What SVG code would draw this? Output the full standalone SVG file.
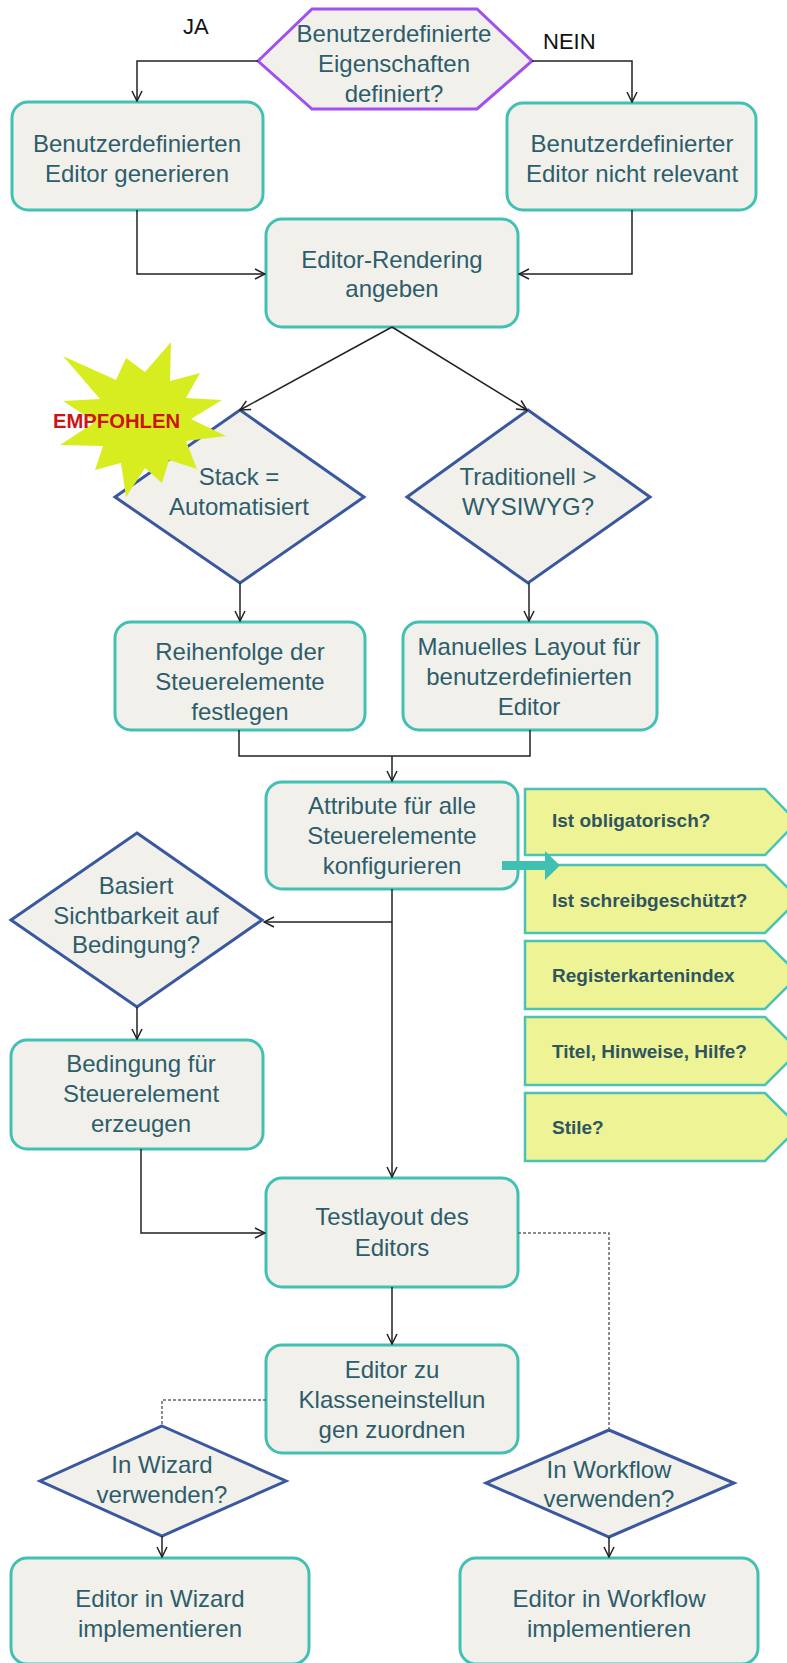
<svg xmlns="http://www.w3.org/2000/svg" width="787" height="1663" viewBox="0 0 787 1663">
<defs>
<style>
.box{fill:#f1f0ea;stroke:#42c0b4;stroke-width:3}
.dia{fill:#f1f0ea;stroke:#3a589f;stroke-width:3}
.hex{fill:#f1f0ea;stroke:#a14ff0;stroke-width:3}
.tag{fill:#eef395;stroke:#48c3b6;stroke-width:2.5}
.t{font-family:"Liberation Sans",Arial,sans-serif;font-size:24px;fill:#2d5d6b;text-anchor:middle}
.tt{font-family:"Liberation Sans",Arial,sans-serif;font-size:19px;font-weight:bold;fill:#2f5560}
.lbl{font-family:"Liberation Sans",Arial,sans-serif;font-size:22px;fill:#111}
.c{fill:none;stroke:#222;stroke-width:1.5;marker-end:url(#ah)}
.cn{fill:none;stroke:#222;stroke-width:1.5}
.d{fill:none;stroke:#666;stroke-width:1.5;stroke-dasharray:3 2}
</style>
<marker id="ah" viewBox="0 0 12 12" refX="11" refY="6" markerWidth="12" markerHeight="12" markerUnits="userSpaceOnUse" orient="auto">
<path d="M1,1 L11,6 L1,11" fill="none" stroke="#222" stroke-width="1.5"/>
</marker>
</defs>
<rect width="787" height="1663" fill="#fff"/>

<g id="n-start">
<polygon class="hex" points="258,61 312,9 477,9 532,61 477,109 312,109"/>
<text class="t" x="394" y="42">Benutzerdefinierte</text>
<text class="t" x="394" y="72">Eigenschaften</text>
<text class="t" x="394" y="102">definiert?</text>
</g>
<g id="l-ja"><text class="lbl" x="183" y="34">JA</text></g>
<g id="l-nein"><text class="lbl" x="543" y="49">NEIN</text></g>

<g id="n-gen">
<rect class="box" x="12" y="102" width="251" height="108" rx="16"/>
<text class="t" x="137" y="152">Benutzerdefinierten</text>
<text class="t" x="137" y="182">Editor generieren</text>
</g>
<g id="n-notrel">
<rect class="box" x="507" y="103" width="249" height="107" rx="16"/>
<text class="t" x="632" y="152">Benutzerdefinierter</text>
<text class="t" x="632" y="182">Editor nicht relevant</text>
</g>
<g id="n-render">
<rect class="box" x="266" y="219" width="252" height="108" rx="16"/>
<text class="t" x="392" y="268">Editor-Rendering</text>
<text class="t" x="392" y="297">angeben</text>
</g>

<g id="n-stack">
<polygon class="dia" points="240,410 364,497 240,583 115,497"/>
<text class="t" x="239" y="485">Stack =</text>
<text class="t" x="239" y="515">Automatisiert</text>
</g>
<g id="n-empfohlen">
<polygon fill="#d8ed1f" points="126,358 145,372 171,342 170,381 200,373 186,398 222,400 191,419 226,436 186,441 197,469 169,460 162,483 145,468 126,497 121,463 95,470 103,446 60,445 95,422 63,401 100,399 63,356 116,380"/>
<text x="53" y="428" font-family="'Liberation Sans',Arial,sans-serif" font-size="20" font-weight="bold" fill="#cc1414" textLength="127" lengthAdjust="spacingAndGlyphs">EMPFOHLEN</text>
</g>
<g id="n-trad">
<polygon class="dia" points="528,410 650,497 528,583 407,497"/>
<text class="t" x="528" y="485">Traditionell &gt;</text>
<text class="t" x="528" y="515">WYSIWYG?</text>
</g>

<g id="n-order">
<rect class="box" x="115" y="622" width="250" height="108" rx="16"/>
<text class="t" x="240" y="660">Reihenfolge der</text>
<text class="t" x="240" y="690">Steuerelemente</text>
<text class="t" x="240" y="720">festlegen</text>
</g>
<g id="n-manual">
<rect class="box" x="403" y="622" width="254" height="108" rx="16"/>
<text class="t" x="529" y="655">Manuelles Layout für</text>
<text class="t" x="529" y="685">benutzerdefinierten</text>
<text class="t" x="529" y="715">Editor</text>
</g>

<g id="n-attr">
<rect class="box" x="266" y="782" width="252" height="107" rx="16"/>
<text class="t" x="392" y="814">Attribute für alle</text>
<text class="t" x="392" y="844">Steuerelemente</text>
<text class="t" x="392" y="874">konfigurieren</text>
</g>

<g id="n-tag1">
<polygon class="tag" points="525,789 765,789 797,822 765,855 525,855"/>
<text class="tt" x="552" y="827">Ist obligatorisch?</text>
</g>
<g id="n-tag2">
<polygon class="tag" points="525,865 765,865 799,899 765,933 525,933"/>
<text class="tt" x="552" y="907">Ist schreibgeschützt?</text>
</g>
<g id="n-tag3">
<polygon class="tag" points="525,941 765,941 799,975 765,1009 525,1009"/>
<text class="tt" x="552" y="982">Registerkartenindex</text>
</g>
<g id="n-tag4">
<polygon class="tag" points="525,1017 765,1017 799,1051 765,1085 525,1085"/>
<text class="tt" x="552" y="1058">Titel, Hinweise, Hilfe?</text>
</g>
<g id="n-tag5">
<polygon class="tag" points="525,1093 765,1093 799,1127 765,1161 525,1161"/>
<text class="tt" x="552" y="1134">Stile?</text>
</g>

<g id="n-visible">
<polygon class="dia" points="137,833 262,920 137,1007 11,920"/>
<text class="t" x="136" y="894">Basiert</text>
<text class="t" x="136" y="924">Sichtbarkeit auf</text>
<text class="t" x="136" y="953">Bedingung?</text>
</g>
<g id="n-cond">
<rect class="box" x="11" y="1040" width="252" height="109" rx="16"/>
<text class="t" x="141" y="1072">Bedingung für</text>
<text class="t" x="141" y="1102">Steuerelement</text>
<text class="t" x="141" y="1132">erzeugen</text>
</g>

<g id="n-test">
<rect class="box" x="266" y="1178" width="252" height="109" rx="16"/>
<text class="t" x="392" y="1225">Testlayout des</text>
<text class="t" x="392" y="1256">Editors</text>
</g>
<g id="n-assign">
<rect class="box" x="266" y="1345" width="252" height="108" rx="16"/>
<text class="t" x="392" y="1378">Editor zu</text>
<text class="t" x="392" y="1408">Klasseneinstellun</text>
<text class="t" x="392" y="1438">gen zuordnen</text>
</g>

<g id="n-wizq">
<polygon class="dia" points="162,1426 286,1481 162,1536 40,1481"/>
<text class="t" x="162" y="1473">In Wizard</text>
<text class="t" x="162" y="1503">verwenden?</text>
</g>
<g id="n-wfq">
<polygon class="dia" points="609,1430 734,1483 609,1537 486,1483"/>
<text class="t" x="609" y="1478">In Workflow</text>
<text class="t" x="609" y="1507">verwenden?</text>
</g>

<g id="n-wiz">
<rect class="box" x="11" y="1558" width="298" height="106" rx="16"/>
<text class="t" x="160" y="1607">Editor in Wizard</text>
<text class="t" x="160" y="1637">implementieren</text>
</g>
<g id="n-wf">
<rect class="box" x="460" y="1558" width="298" height="106" rx="16"/>
<text class="t" x="609" y="1607">Editor in Workflow</text>
<text class="t" x="609" y="1637">implementieren</text>
</g>

<g id="connectors">
<path class="c" d="M258,61 H137 V101"/>
<path class="c" d="M532,61 H632 V102"/>
<path class="c" d="M137,210 V274 H265"/>
<path class="c" d="M632,210 V274 H519"/>
<path class="c" d="M392,327 L240,410"/>
<path class="c" d="M392,327 L527,410"/>
<path class="c" d="M240,583 V621"/>
<path class="c" d="M529,583 V621"/>
<path class="cn" d="M239,730 V756 H530 V730"/>
<path class="c" d="M392,756 V781"/>
<path class="c" d="M392,889 V1177"/>
<path class="c" d="M392,922 H264"/>
<path class="c" d="M137,1007 V1039"/>
<path class="c" d="M141,1149 V1233 H265"/>
<path class="c" d="M392,1287 V1344"/>
<path class="c" d="M162,1536 V1557"/>
<path class="c" d="M609,1537 V1557"/>
<path class="d" d="M518,1233 H609 V1430"/>
<path class="d" d="M266,1400 H162 V1426"/>
<g fill="#3fc0b3">
<rect x="502" y="861" width="45" height="9"/>
<polygon points="545,851 560,865.5 545,880"/>
</g>
</g>
</svg>
